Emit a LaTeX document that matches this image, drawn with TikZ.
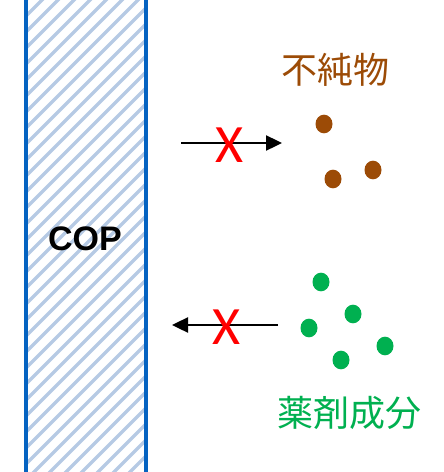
\documentclass[tikz,border=0pt]{standalone}
\usepackage{fontspec}
\setmainfont{Liberation Sans}
\newfontfamily\cjk{Noto Sans CJK JP}
\newfontfamily\crossfont{Carlito}
\usetikzlibrary{arrows.meta}
\definecolor{membraneblue}{RGB}{5,99,193}
\definecolor{hatchblue}{RGB}{182,202,228}
\definecolor{impbrown}{RGB}{156,75,6}
\definecolor{druggreen}{RGB}{0,176,80}
\definecolor{crossred}{RGB}{255,0,0}
\tikzset{
  wall/.style={draw=membraneblue, line width=4pt},
  hatchline/.style={draw=hatchblue, line width=3.4pt},
  flow/.style={draw=black, line width=2.4pt, -{Triangle[length=16pt,width=15pt]}},
  cross/.style={text=crossred, inner sep=0pt, font=\crossfont\fontsize{54}{54}\selectfont},
  impdot/.style={circle, fill=impbrown, minimum width=17pt, minimum height=17pt, inner sep=0pt, yscale=1.1},
  drugdot/.style={circle, fill=druggreen, minimum width=17pt, minimum height=17pt, inner sep=0pt, yscale=1.1},
  cjklabel/.style={inner sep=0pt, font=\cjk\fontsize{36}{40}\selectfont}
}
\begin{document}
\begin{tikzpicture}[x=1pt, y=-1pt]
  \useasboundingbox (0,0) rectangle (444,472);
  % hatched membrane
  \begin{scope}
    \clip (26,0) rectangle (146,472);
    \foreach \k in {-2,...,40} {
      \pgfmathsetmacro{\c}{42+16*\k}
      \draw[hatchline] (\c-480,480) -- (\c+20,-20);
    }
  \end{scope}
  \draw[wall] (26,0) -- (26,472);
  \draw[wall] (146,0) -- (146,472);
  \node[inner sep=0pt, font=\bfseries\fontsize{34}{40}\selectfont] (cop) at (85,238.5) {COP};

  % impurities
  \node[cjklabel, text=impbrown] (implabel) at (335,70) {不純物};
  \node[impdot] (i1) at (324,124) {};
  \node[impdot] (i2) at (333,179) {};
  \node[impdot] (i3) at (373,170) {};

  % drug components
  \node[drugdot] (d1) at (321,282) {};
  \node[drugdot] (d2) at (353,314) {};
  \node[drugdot] (d3) at (309,328) {};
  \node[drugdot] (d4) at (385,346) {};
  \node[drugdot] (d5) at (341,360) {};
  \node[cjklabel, text=druggreen] (druglabel) at (349,413) {薬剤成分};

  % arrows
  \coordinate (a1s) at (181,143);
  \coordinate (a1e) at (282,143);
  \coordinate (a2s) at (278,325);
  \coordinate (a2e) at (172,325);
  \draw[flow] (a1s) -- (a1e);
  \draw[flow] (a2s) -- (a2e);
  \node[cross] (x1) at (230,145) {X};
  \node[cross] (x2) at (227,327) {X};
\end{tikzpicture}
\end{document}
